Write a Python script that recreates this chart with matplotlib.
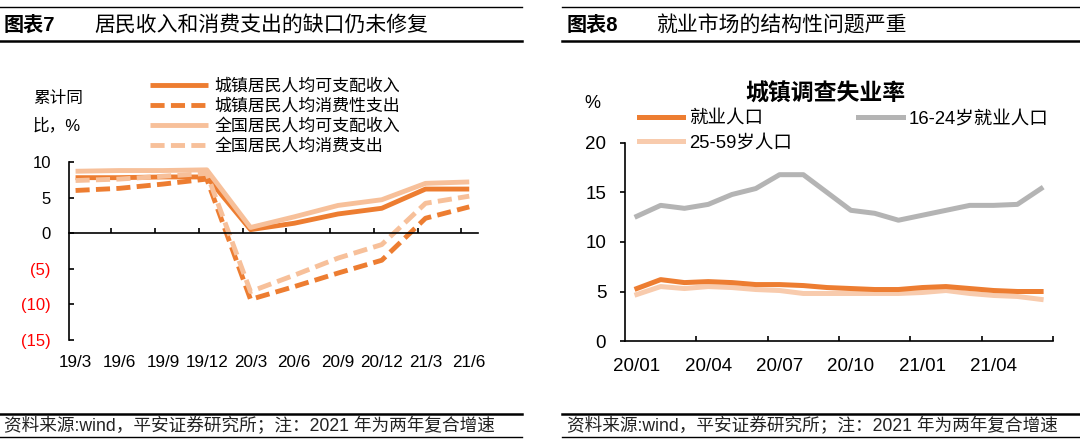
import matplotlib
matplotlib.use("Agg")
import matplotlib.pyplot as plt
from matplotlib.lines import Line2D

plt.rcParams['font.family'] = ['Liberation Sans', 'Noto Sans CJK SC', 'DejaVu Sans']
plt.rcParams['axes.unicode_minus'] = False

# Chart 7: cumulative yoy growth, %
quarters = ['19/3', '19/6', '19/9', '19/12', '20/3', '20/6', '20/9', '20/12', '21/3', '21/6']
urban_income = [7.8, 7.8, 7.9, 7.9, 0.5, 1.4, 2.7, 3.5, 6.2, 6.2]
urban_consume = [6.0, 6.3, 6.9, 7.6, -9.3, -7.5, -5.6, -3.8, 2.1, 3.7]
nation_income = [8.7, 8.8, 8.8, 8.9, 0.8, 2.3, 3.9, 4.7, 7.0, 7.2]
nation_consume = [7.4, 7.6, 8.0, 8.4, -8.2, -5.9, -3.5, -1.6, 4.2, 5.2]
left_yticks = [-15, -10, -5, 0, 5, 10]

# Chart 8: urban surveyed unemployment rate, %
months = ['20/01', '20/02', '20/03', '20/04', '20/05', '20/06', '20/07', '20/08', '20/09',
          '20/10', '20/11', '20/12', '21/01', '21/02', '21/03', '21/04', '21/05', '21/06']
rate_all = [5.3, 6.2, 5.9, 6.0, 5.9, 5.7, 5.7, 5.6, 5.4, 5.3, 5.2, 5.2, 5.4, 5.5, 5.3, 5.1, 5.0, 5.0]
rate_16_24 = [12.6, 13.7, 13.4, 13.8, 14.8, 15.4, 16.8, 16.8, 15.0, 13.2, 12.9, 12.2,
              12.7, 13.2, 13.7, 13.7, 13.8, 15.4]
rate_25_59 = [4.7, 5.5, 5.3, 5.5, 5.4, 5.2, 5.1, 4.8, 4.8, 4.8, 4.8, 4.8, 4.9, 5.1, 4.8, 4.6, 4.5, 4.2]

DARK = '#ED7D31'
LIGHT = '#F7C09A'
LIGHT2 = '#F8CBAD'
GRAY = '#B4B4B4'

fig = plt.figure(figsize=(10.8, 4.4), dpi=100)
W, H = 1080, 440


def fx(px):
    return px / W


def fy(py):
    return 1 - py / H


def hline(x0, x1, y, lw):
    fig.add_artist(Line2D([fx(x0), fx(x1)], [fy(y), fy(y)], color='black', lw=lw,
                          transform=fig.transFigure))


# headers and footers
for x0, x1 in [(0, 522), (562, 1080)]:
    hline(x0, x1, 7, 1.0)
    hline(x0, x1, 41, 1.8)
    hline(x0, x1, 414, 1.8)
    hline(x0, x1, 437, 1.0)

fig.text(fx(4), fy(25), '图表7', fontsize=14.5, fontweight='bold', va='center')
fig.text(fx(94), fy(25), '居民收入和消费支出的缺口仍未修复', fontsize=15, va='center')
fig.text(fx(567), fy(25), '图表8', fontsize=14.5, fontweight='bold', va='center')
fig.text(fx(657), fy(25), '就业市场的结构性问题严重', fontsize=15, va='center')
note = '资料来源:wind，平安证券研究所；注：2021 年为两年复合增速'
fig.text(fx(4), fy(426), note, fontsize=12.7, va='center', color='#222222')
fig.text(fx(567), fy(426), note, fontsize=12.7, va='center', color='#222222')

# ---------------- left chart ----------------
ax1 = fig.add_axes([fx(69), fy(340), fx(478 - 69), (340 - 162) / H])
x = list(range(len(quarters)))
ax1.plot(x, urban_income, color=DARK, lw=3.5, solid_capstyle='butt',
         label='城镇居民人均可支配收入')
ax1.plot(x, urban_consume, color=DARK, lw=3.5, dashes=(2.9, 1.3), dash_capstyle='butt',
         label='城镇居民人均消费性支出')
ax1.plot(x, nation_income, color=LIGHT, lw=3.5, solid_capstyle='butt',
         label='全国居民人均可支配收入')
ax1.plot(x, nation_consume, color=LIGHT, lw=3.5, dashes=(2.9, 1.3), dash_capstyle='butt',
         label='全国居民人均消费支出')

ax1.set_xlim(-0.15, 9.2)
ax1.set_ylim(-15, 10)
for s in ['top', 'right']:
    ax1.spines[s].set_visible(False)
ax1.spines['bottom'].set_position(('data', 0))
ax1.spines['bottom'].set_linewidth(1.2)
ax1.spines['left'].set_linewidth(1.2)
ax1.set_xticks([i - 0.18 for i in range(1, len(quarters))])
ax1.set_xticklabels([])
ax1.tick_params(axis='x', direction='in', length=3.5, width=1.2)
ax1.set_yticks(left_yticks)
ax1.set_yticklabels([f'({-v})' if v < 0 else str(v) for v in left_yticks], fontsize=12)
for lab, v in zip(ax1.get_yticklabels(), left_yticks):
    if v < 0:
        lab.set_color('red')
ax1.tick_params(axis='y', direction='in', length=3.5, width=1.2, pad=13)
for i, q in enumerate(quarters):
    ax1.text(i, -0.125, q, transform=ax1.get_xaxis_transform(), ha='center', va='center',
             fontsize=12.3)

fig.text(fx(33), fy(98), '累计同', fontsize=12, va='center')
fig.text(fx(33), fy(125), '比，%', fontsize=12, va='center')
fig.legend(handles=ax1.get_lines(), loc='upper left', bbox_to_anchor=(fx(150), fy(78)),
           frameon=False, fontsize=12.2, handlelength=3.4, handletextpad=0.4,
           labelspacing=0.25, borderpad=0, borderaxespad=0)

# ---------------- right chart ----------------
ax2 = fig.add_axes([fx(625), fy(341), fx(1053 - 625), (341 - 143) / H])
m = list(range(len(months)))
l_all, = ax2.plot(m, rate_all, color=DARK, lw=3.6, label='就业人口')
l_old, = ax2.plot(m, rate_25_59, color=LIGHT2, lw=3.6, label='25-59岁人口')
l_young, = ax2.plot(m, rate_16_24, color=GRAY, lw=3.6, label='16-24岁就业人口')
l_all.set_zorder(3)

ax2.set_xlim(-0.5, len(months) - 0.5)
ax2.set_ylim(0, 20)
for s in ['top', 'right']:
    ax2.spines[s].set_visible(False)
ax2.spines['bottom'].set_linewidth(1.2)
ax2.spines['left'].set_linewidth(1.2)
ax2.set_xticks(m[::3])
ax2.set_xticklabels(months[::3], fontsize=13.5)
ax2.set_xticks([i + 2.5 for i in m[::3]], minor=True)
ax2.tick_params(axis='x', which='major', length=0, pad=12)
ax2.tick_params(axis='x', which='minor', direction='in', length=3.5, width=1.2)
ax2.set_yticks([0, 5, 10, 15, 20])
ax2.tick_params(axis='y', direction='out', length=3.5, width=1.2, labelsize=13.5, pad=10)

fig.text(fx(825), fy(94), '城镇调查失业率', fontsize=16.5, fontweight='bold',
         ha='center', va='center')
fig.text(fx(592), fy(104), '%', fontsize=13, ha='center', va='center')
fig.legend(handles=[l_all, l_old, l_young], loc='upper left', ncol=2,
           bbox_to_anchor=(fx(639), fy(110)), frameon=False, fontsize=13.3,
           handlelength=2.4, handletextpad=0.3, columnspacing=3.6,
           labelspacing=0.4, borderpad=0, borderaxespad=0)

fig.savefig('out.png', dpi=100)
